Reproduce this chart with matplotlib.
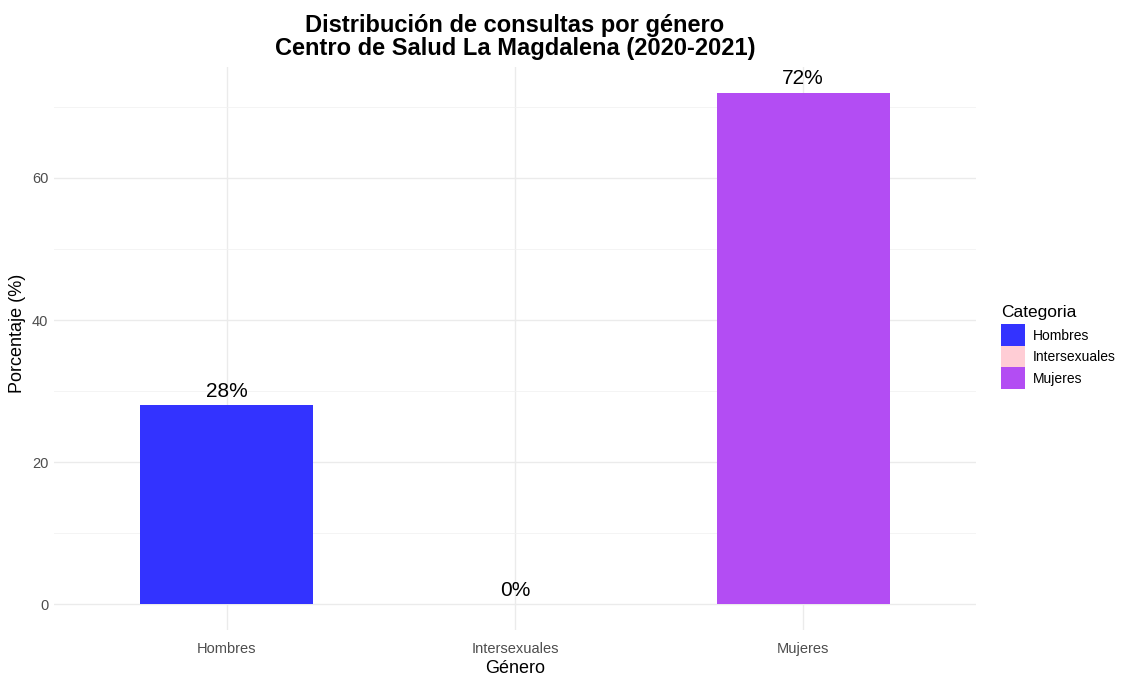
import matplotlib.pyplot as plt
from matplotlib.patches import Patch

plt.rcParams["font.family"] = ["Liberation Sans", "DejaVu Sans"]

categorias = ["Hombres", "Intersexuales", "Mujeres"]
porcentajes = [28, 0, 72]
colores = ["#3333FF", "#FFCDD5", "#B34DF3"]

fig = plt.figure(figsize=(11.25, 6.75), dpi=100)
ax = fig.add_axes([0.048, 0.0667, 0.8196, 0.834])

x = range(len(categorias))
ax.bar(x, porcentajes, width=0.6, color=colores, zorder=2)

for xi, v in zip(x, porcentajes):
    ax.text(xi, v + 0.6, f"{v}%", ha="center", va="bottom", fontsize=15, color="black", zorder=3)

ax.set_xlim(-0.6, 2.6)
ax.set_ylim(-3.6, 75.6)
ax.set_xticks(list(x))
ax.set_xticklabels(categorias)
ax.set_yticks([0, 20, 40, 60])
ax.set_yticks([10, 30, 50, 70], minor=True)

ax.grid(True, which="major", color="#EBEBEB", linewidth=1.0, zorder=0)
ax.grid(True, which="minor", axis="y", color="#F2F2F2", linewidth=0.6, zorder=0)
for s in ax.spines.values():
    s.set_visible(False)
ax.tick_params(which="both", length=0, labelsize=10.5, labelcolor="#4D4D4D", pad=9)
ax.tick_params(axis="y", pad=4)

ax.set_xlabel("Género", fontsize=13)
ax.set_ylabel("Porcentaje (%)", fontsize=13)
ax.xaxis.set_label_coords(0.5, -0.053)
ax.yaxis.set_label_coords(-0.030, 0.527)
ax.set_title("Distribución de consultas por género\nCentro de Salud La Magdalena (2020-2021)",
             fontsize=17, fontweight="bold", linespacing=0.95, pad=9)

handles = [Patch(facecolor=c, edgecolor="none", label=l) for c, l in zip(colores, categorias)]
leg = fig.legend(handles=handles, title="Categoria", loc="upper left",
                 bbox_to_anchor=(0.8835, 0.558), frameon=False, fontsize=10,
                 title_fontsize=12.5, handlelength=1.75, handleheight=2.0,
                 handletextpad=0.55, labelspacing=0.0, borderpad=0)
leg._legend_box.align = "left"
leg._legend_box.sep = 3

fig.savefig("out.png", dpi=100, facecolor="white")
